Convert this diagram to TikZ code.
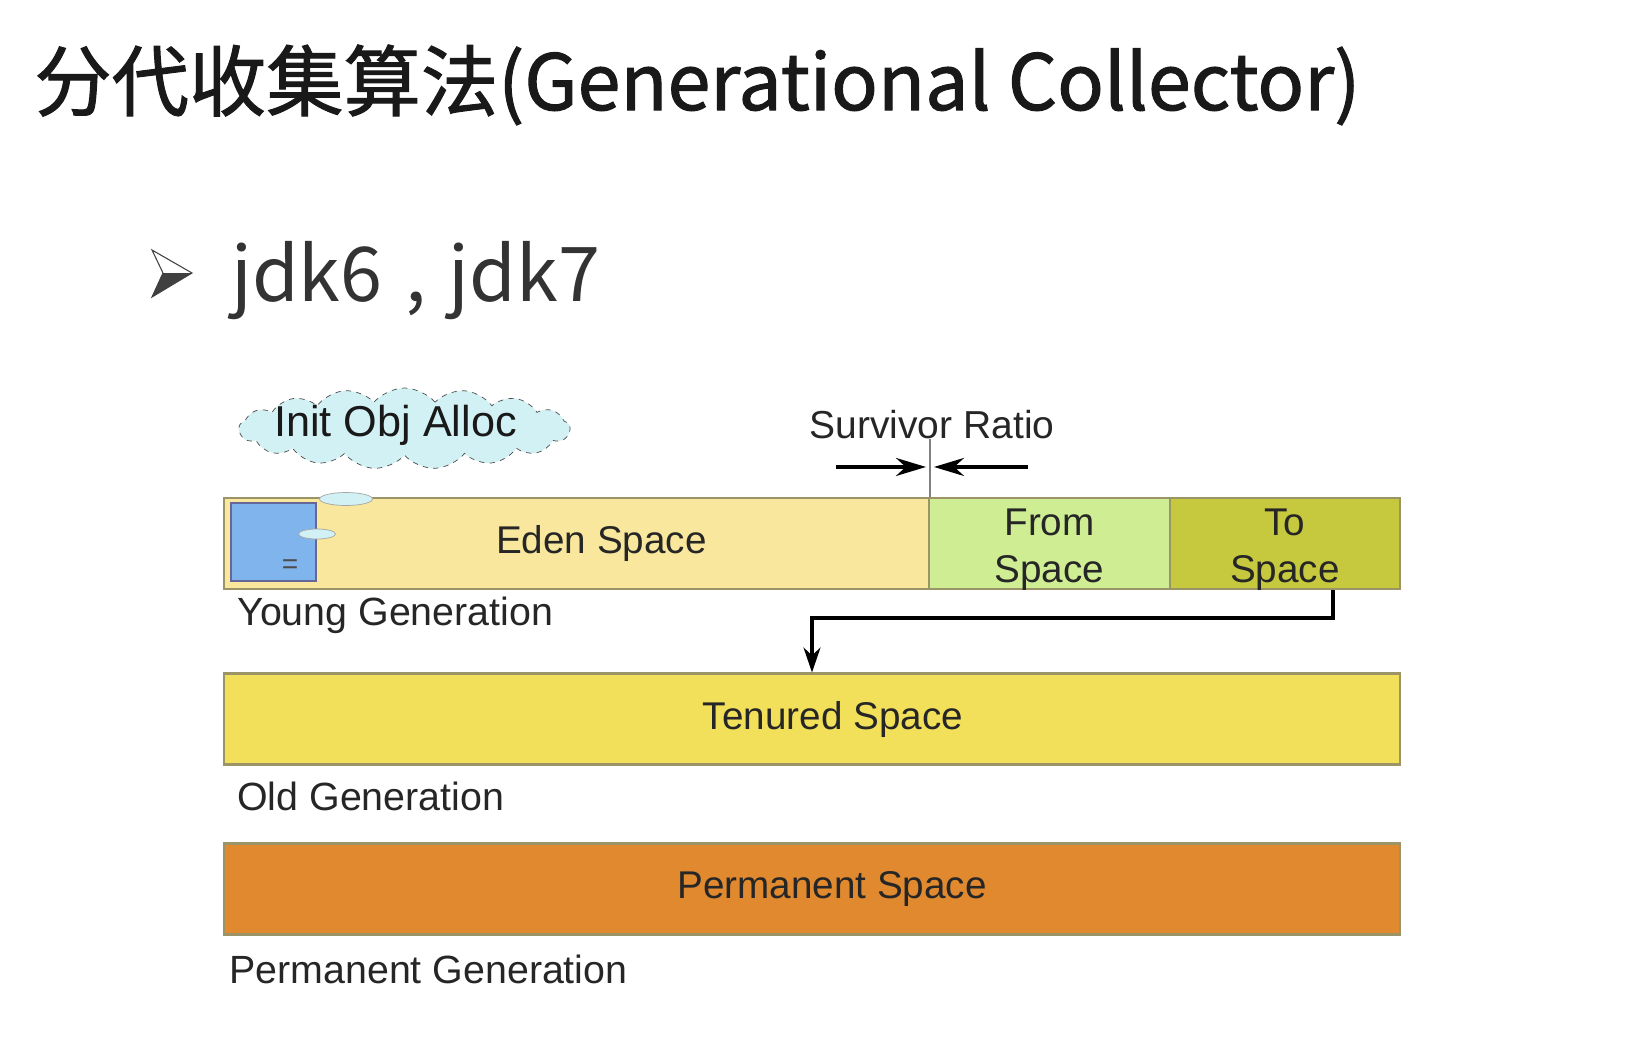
\documentclass[tikz,border=0pt]{standalone}
\usepackage{fontspec}
\setmainfont{Liberation Sans}
\newfontfamily\cjkfont{Noto Sans CJK SC}
\newfontfamily\cjkheavy[FakeBold=1.3]{Noto Sans CJK SC}
\usetikzlibrary{arrows.meta,shapes.symbols,shapes.geometric}

\definecolor{edenfill}{HTML}{F8E79C}
\definecolor{fromfill}{HTML}{CFEE93}
\definecolor{tofill}{HTML}{C6C83E}
\definecolor{tenuredfill}{HTML}{F2DF5A}
\definecolor{permfill}{HTML}{E0892F}
\definecolor{barline}{HTML}{9A9466}
\definecolor{blockfill}{HTML}{80B4EC}
\definecolor{cloudfill}{HTML}{D2F1F4}

\begin{document}
\begin{tikzpicture}[
    x=0.02cm, y=-0.02cm,
    bar/.style={draw=barline, line width=1.2pt, fill=#1, minimum height=1.82cm, inner sep=0pt},
    barlabel/.style={font=\fontsize{22}{27}\selectfont, text=black!85, align=center},
    genlabel/.style={font=\fontsize{22.4}{26}\selectfont, text=black!85, anchor=west, inner sep=0pt},
    bubble/.style={ellipse, draw=gray!70, fill=cloudfill, inner sep=0pt},
    flow/.style={-{Stealth[length=0.5cm, width=0.34cm]}, line width=1.8pt},
    ratioarrow/.style={-{Stealth[length=0.6cm, width=0.36cm]}, line width=2pt}
]
    \useasboundingbox (0,0) rectangle (1646,1052);

    % Heading
    \node[anchor=base west, inner sep=0pt, text=black!90, font=\cjkheavy\fontsize{44}{50}\selectfont] (title) at (34,110) {分代收集算法(Generational Collector)};
    \fill[white] (152,250) -- (192,273) -- (163,273) -- cycle;
    \draw[black!75, line width=0.6pt, line join=miter] (152,250) -- (192,273) -- (152,297) -- (163,273) -- cycle;
    \fill[black!75] (163,273) -- (192,273) -- (152,297) -- cycle;
    \node[anchor=base west, inner sep=0pt, text=black!80, font=\cjkfont\fontsize{43}{48}\selectfont] (jdk) at (231,301) {jdk6\hspace{0.3em},\hspace{0.3em}jdk7};

    % Young generation
    \node[bar=edenfill, minimum width=14.1cm, label={[barlabel, xshift=0.5cm]center:Eden Space}] (eden) at (576.5,543.5) {};
    \node[bar=fromfill, minimum width=4.82cm, label={[barlabel, yshift=-0.12cm]center:From\\Space}] (fromspace) at (1049.5,543.5) {};
    \node[bar=tofill, minimum width=4.6cm, label={[barlabel, yshift=-0.12cm]center:To\\Space}] (tospace) at (1285,543.5) {};
    \node[genlabel] (younglabel) at (237,615) {Young Generation};

    % Allocation block and cloud
    \node[draw=gray!80!blue, line width=1pt, fill=blockfill, minimum width=1.7cm, minimum height=1.56cm, inner sep=0pt] (block) at (273.5,542) {};
    \node[inner sep=0pt, font=\fontsize{16}{16}\selectfont, text=black!70] (blockmark) at (290,567) {=};
    \node[bubble, minimum width=0.74cm, minimum height=0.2cm] (bubblea) at (317,534) {};
    \node[bubble, minimum width=1.06cm, minimum height=0.26cm] (bubbleb) at (346,499) {};
    \node[cloud, cloud puffs=17, cloud puff arc=100, aspect=6, draw=black!70, dashed, fill=cloudfill,
          minimum width=6.62cm, minimum height=1.62cm, inner sep=0pt,
          label={[font=\fontsize{24.6}{28}\selectfont, text=black!90, xshift=-0.18cm, yshift=0.06cm]center:Init Obj Alloc}] (initcloud) at (404.5,428.5) {};

    % Survivor ratio
    \node[inner sep=0pt, font=\fontsize{22.2}{26}\selectfont, text=black!85] (ratio) at (932,425) {Survivor Ratio};
    \draw[gray, line width=0.6pt] (eden.north east) -- (eden.north east |- ratio.base);
    \draw[ratioarrow] ([xshift=-1.88cm, yshift=0.6cm]eden.north east) -- ([xshift=-0.08cm, yshift=0.6cm]eden.north east);
    \draw[ratioarrow] ([xshift=1.96cm, yshift=0.6cm]eden.north east) -- ([xshift=0.08cm, yshift=0.6cm]eden.north east);

    % Old generation
    \node[bar=tenuredfill, minimum width=23.52cm, label={[barlabel, xshift=0.42cm]center:Tenured Space}] (tenured) at (812,719) {};
    \node[genlabel] (oldlabel) at (237,796) {Old Generation};

    % Permanent generation
    \node[bar=permfill, minimum width=23.52cm, label={[barlabel, xshift=0.4cm]center:Permanent Space}] (permanent) at (812,889) {};
    \node[genlabel] (permlabel) at (229,969) {Permanent Generation};

    % Promotion from To Space
    \coordinate (tobend) at (1333,618);
    \coordinate (drop) at (812,618);
    \draw[flow] (tospace.south -| tobend) -- (tobend) -| (tenured.north -| drop);
\end{tikzpicture}
\end{document}
